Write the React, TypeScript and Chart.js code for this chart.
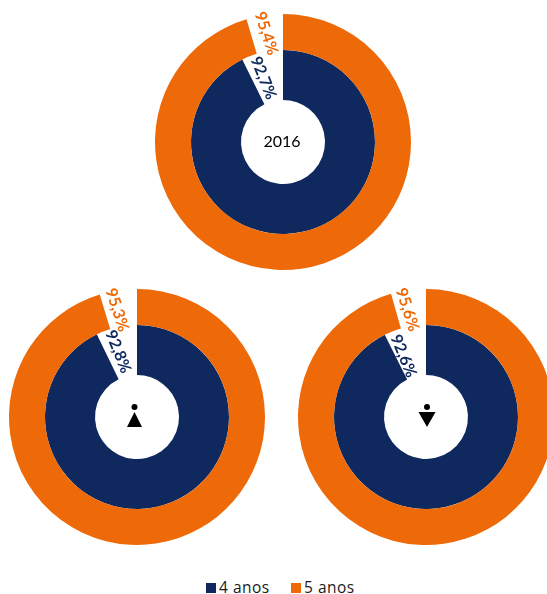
import React, { useEffect, useRef } from "react";
import { Chart, registerables } from "chart.js";

Chart.register(...registerables);

const NAVY = "#0F295E";
const ORANGE = "#EE6A08";

const seriesNames = ["4 anos", "5 anos"];
const years4 = [92.7, 92.8, 92.6];
const years5 = [95.4, 95.3, 95.6];
const centers = ["2016", "up", "down"];

const FONT = "Lato, Carlito, sans-serif";

const layouts = [
  { left: 151, top: 10, lab5: 0.53, lab4: 0.65, lab5r: 110, lab4r: 67, iconDx: 0 },
  { left: 5, top: 285, lab5: 0.62, lab4: 0.62, lab5r: 109, lab4r: 68, iconDx: -2.5 },
  { left: 294, top: 285, lab5: 0.62, lab4: 0.76, lab5r: 109, lab4r: 65, iconDx: 1 },
];

function fmt(v: number) {
  return v.toFixed(1).replace(".", ",") + "%";
}

function Donut({ index }: { index: number }) {
  const ref = useRef<HTMLCanvasElement | null>(null);
  useEffect(() => {
    const l = layouts[index];
    const v4 = years4[index];
    const v5 = years5[index];
    const labelPlugin = {
      id: "ringLabels",
      afterDatasetsDraw(chart: any) {
        const ctx = chart.ctx as CanvasRenderingContext2D;
        const cx = chart.chartArea.left + chart.chartArea.width / 2;
        const cy = chart.chartArea.top + chart.chartArea.height / 2;
        const draw = (val: number, frac: number, r: number, color: string, rot: number) => {
          const gapDeg = ((100 - val) / 100) * 360;
          const a = (-gapDeg * frac * Math.PI) / 180;
          const x = cx + r * Math.sin(a);
          const y = cy - r * Math.cos(a);
          ctx.save();
          ctx.translate(x, y);
          ctx.rotate((rot * Math.PI) / 180);
          ctx.font = `700 16px ${FONT}`;
          ctx.fillStyle = color;
          ctx.textAlign = "center";
          ctx.textBaseline = "middle";
          ctx.fillText(fmt(val), 0, 0);
          ctx.restore();
        };
        draw(v5, l.lab5, l.lab5r, ORANGE, 72);
        draw(v4, l.lab4, l.lab4r, NAVY, 68);

        const c = centers[index];
        ctx.save();
        ctx.fillStyle = "#000";
        if (c === "up" || c === "down") {
          const ix = cx + l.iconDx;
          ctx.beginPath();
          ctx.arc(ix, cy - 10, 3, 0, Math.PI * 2);
          ctx.fill();
          ctx.beginPath();
          if (c === "up") {
            ctx.moveTo(ix, cy - 5);
            ctx.lineTo(ix + 7.5, cy + 10);
            ctx.lineTo(ix - 7.5, cy + 10);
          } else {
            ctx.moveTo(ix - 8.5, cy - 5);
            ctx.lineTo(ix + 8.5, cy - 5);
            ctx.lineTo(ix, cy + 10);
          }
          ctx.closePath();
          ctx.fill();
        } else {
          ctx.font = `400 16px ${FONT}`;
          ctx.textAlign = "center";
          ctx.textBaseline = "middle";
          ctx.fillText(c, cx - 1, cy);
        }
        ctx.restore();
      },
    };
    const chart = new Chart(ref.current as HTMLCanvasElement, {
      type: "doughnut",
      data: {
        labels: ["valor", "resto"],
        datasets: [
          {
            label: seriesNames[1],
            data: [v5, 100 - v5],
            backgroundColor: [ORANGE, "rgba(0,0,0,0)"],
            borderWidth: 0,
            hoverOffset: 0,
            weight: 36,
          },
          {
            label: seriesNames[0],
            data: [v4, 100 - v4],
            backgroundColor: [NAVY, "rgba(0,0,0,0)"],
            borderWidth: 0,
            hoverOffset: 0,
            weight: 50,
          },
        ],
      },
      options: {
        animation: false,
        responsive: false,
        cutout: 42,
        layout: { padding: 4 },
        plugins: { legend: { display: false }, tooltip: { enabled: false } },
      } as any,
      plugins: [labelPlugin],
    });
    return () => chart.destroy();
  }, [index]);
  const l = layouts[index];
  return (
    <canvas
      ref={ref}
      width={264}
      height={264}
      style={{ position: "absolute", left: l.left, top: l.top, width: 264, height: 264 }}
    />
  );
}

function LegendItem({ name, color, left }: { name: string; color: string; left: number }) {
  return (
    <div style={{ position: "absolute", left, top: 577, height: 20, display: "flex", alignItems: "center" }}>
      <span style={{ width: 10, height: 10, background: color, display: "inline-block", marginRight: 3, marginTop: 2 }} />
      <span style={{ font: `400 15.5px "Open Sans", ${FONT}`, color: "#1a1a1a", letterSpacing: 0.5, whiteSpace: "nowrap" }}>{name}</span>
    </div>
  );
}

export default function App() {
  return (
    <div style={{ position: "fixed", left: 0, top: 0, width: 547, height: 594, overflow: "hidden", background: "#fff" }}>
      {layouts.map((_, i) => (
        <Donut key={i} index={i} />
      ))}
      <LegendItem name={seriesNames[0]} color={NAVY} left={206} />
      <LegendItem name={seriesNames[1]} color={ORANGE} left={291} />
    </div>
  );
}
